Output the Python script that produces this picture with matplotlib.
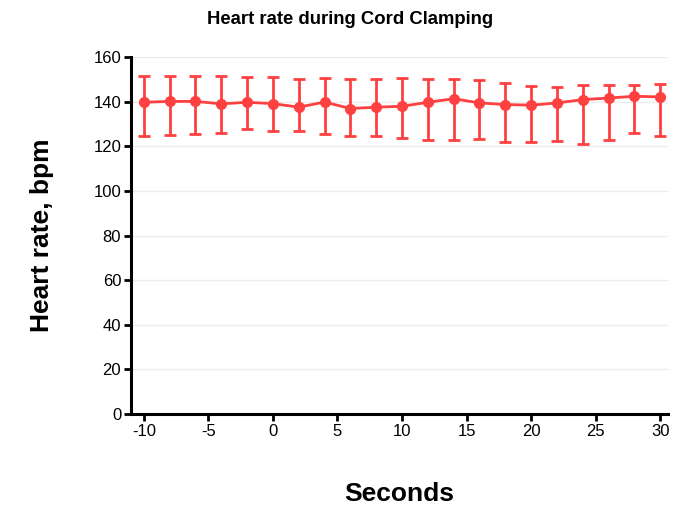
import matplotlib
matplotlib.use("Agg")
import matplotlib.pyplot as plt
import numpy as np

seconds = [-10, -8, -6, -4, -2, 0, 2, 4, 6, 8, 10, 12, 14, 16, 18, 20, 22, 24, 26, 28, 30]
hr_mean = [139.7, 140.1, 140.1, 139.0, 139.7, 139.1, 137.5, 139.8, 136.9, 137.5, 137.9,
           139.7, 141.3, 139.4, 138.7, 138.4, 139.4, 140.9, 141.6, 142.4, 142.1]
hr_upper = [151.3, 151.3, 151.3, 151.3, 151.0, 151.0, 150.1, 150.6, 150.1, 150.3, 150.6,
            150.1, 150.1, 149.6, 148.4, 147.2, 146.6, 147.6, 147.6, 147.3, 148.1]
hr_lower = [124.5, 125.1, 125.4, 126.0, 127.8, 126.7, 126.7, 125.4, 124.5, 124.8, 123.7,
            123.0, 123.0, 123.4, 121.9, 121.9, 122.5, 121.2, 123.0, 126.0, 124.5]
x_ticks = [-10, -5, 0, 5, 10, 15, 20, 25, 30]
x_tick_labels = ['-10', '-5', '0', '5', '10', '15', '20', '25', '30']
y_ticks = [0, 20, 40, 60, 80, 100, 120, 140, 160]

plt.rcParams['font.family'] = ['Liberation Sans', 'DejaVu Sans']

fig = plt.figure(figsize=(6.89, 5.07), dpi=100)
ax = fig.add_axes([0.190, 0.1834, 0.7795, 0.7042])

mean = np.array(hr_mean)
yerr = [mean - np.array(hr_lower), np.array(hr_upper) - mean]
color = '#FF4040'
ax.errorbar(seconds, hr_mean, yerr=yerr, color=color, lw=2, marker='o', ms=7,
            capsize=4, capthick=2, elinewidth=2, zorder=3)

ax.set_xlim(-11, 30.6)
ax.set_ylim(0, 160)
ax.set_xticks(x_ticks)
ax.set_xticklabels(x_tick_labels)
ax.set_yticks(y_ticks)
ax.grid(axis='y', color='#ececec', lw=1, zorder=0)
for s in ['top', 'right']:
    ax.spines[s].set_visible(False)
for s in ['left', 'bottom']:
    ax.spines[s].set_linewidth(2.2)
ax.tick_params(axis='both', width=2, length=5, labelsize=12, pad=2)

fig.text(0.508, 0.962, 'Heart rate during Cord Clamping', fontsize=13.3,
         fontweight='bold', ha='center', va='center')
ax.set_ylabel('Heart rate, bpm', fontsize=19, fontweight='bold', labelpad=28)
ax.set_xlabel('Seconds', fontsize=19, fontweight='bold', labelpad=31)

fig.savefig('out.png', dpi=100)
